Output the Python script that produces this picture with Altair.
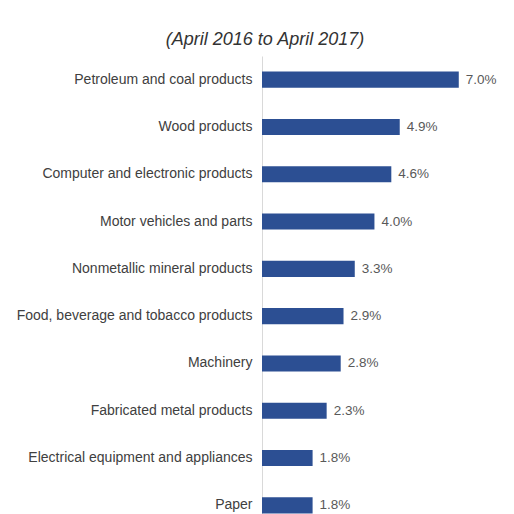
import altair as alt
import pandas as pd

categories = [
    "Petroleum and coal products",
    "Wood products",
    "Computer and electronic products",
    "Motor vehicles and parts",
    "Nonmetallic mineral products",
    "Food, beverage and tobacco products",
    "Machinery",
    "Fabricated metal products",
    "Electrical equipment and appliances",
    "Paper",
]
values = [7.0, 4.9, 4.6, 4.0, 3.3, 2.9, 2.8, 2.3, 1.8, 1.8]
labels = ["7.0%", "4.9%", "4.6%", "4.0%", "3.3%", "2.9%", "2.8%", "2.3%", "1.8%", "1.8%"]
title_text = "(April 2016 to April 2017)"

df = pd.DataFrame({"cat": categories, "val": values, "lab": labels})

FONT = "Liberation Sans"

y = alt.Y(
    "cat:N",
    sort=categories,
    title=None,
    scale=alt.Scale(paddingInner=0.66, paddingOuter=0.33),
    axis=alt.Axis(
        ticks=False,
        domainColor="#d9d9d9",
        domainWidth=1,
        labelFont=FONT,
        labelFontSize=14,
        labelColor="#404040",
        labelPadding=10,
        labelLimit=400,
        grid=False,
    ),
)
x = alt.X("val:Q", title=None, scale=alt.Scale(domain=[0, 8.68]), axis=None)

bars = alt.Chart(df).mark_bar(color="#2C4F93").encode(x=x, y=y)
text = alt.Chart(df).mark_text(
    align="left", baseline="middle", dx=7, font=FONT, fontSize=13.5, color="#595959"
).encode(x=x, y=y, text="lab:N")

title = alt.Chart(pd.DataFrame({"t": [title_text]})).mark_text(
    align="center", baseline="middle", font=FONT, fontSize=18, fontStyle="italic", color="#333333"
).encode(x=alt.value(3), y=alt.value(-16), text="t:N")

chart = (
    alt.layer(bars, text, title)
    .properties(
        width=244,
        height=473,
        padding={"left": 254, "top": 48, "right": 0, "bottom": 0},
        autosize=alt.AutoSizeParams(type="none"),
    )
    .configure_view(stroke=None)
)

chart.save("out.html", embed_options={"renderer": "svg", "actions": False})
